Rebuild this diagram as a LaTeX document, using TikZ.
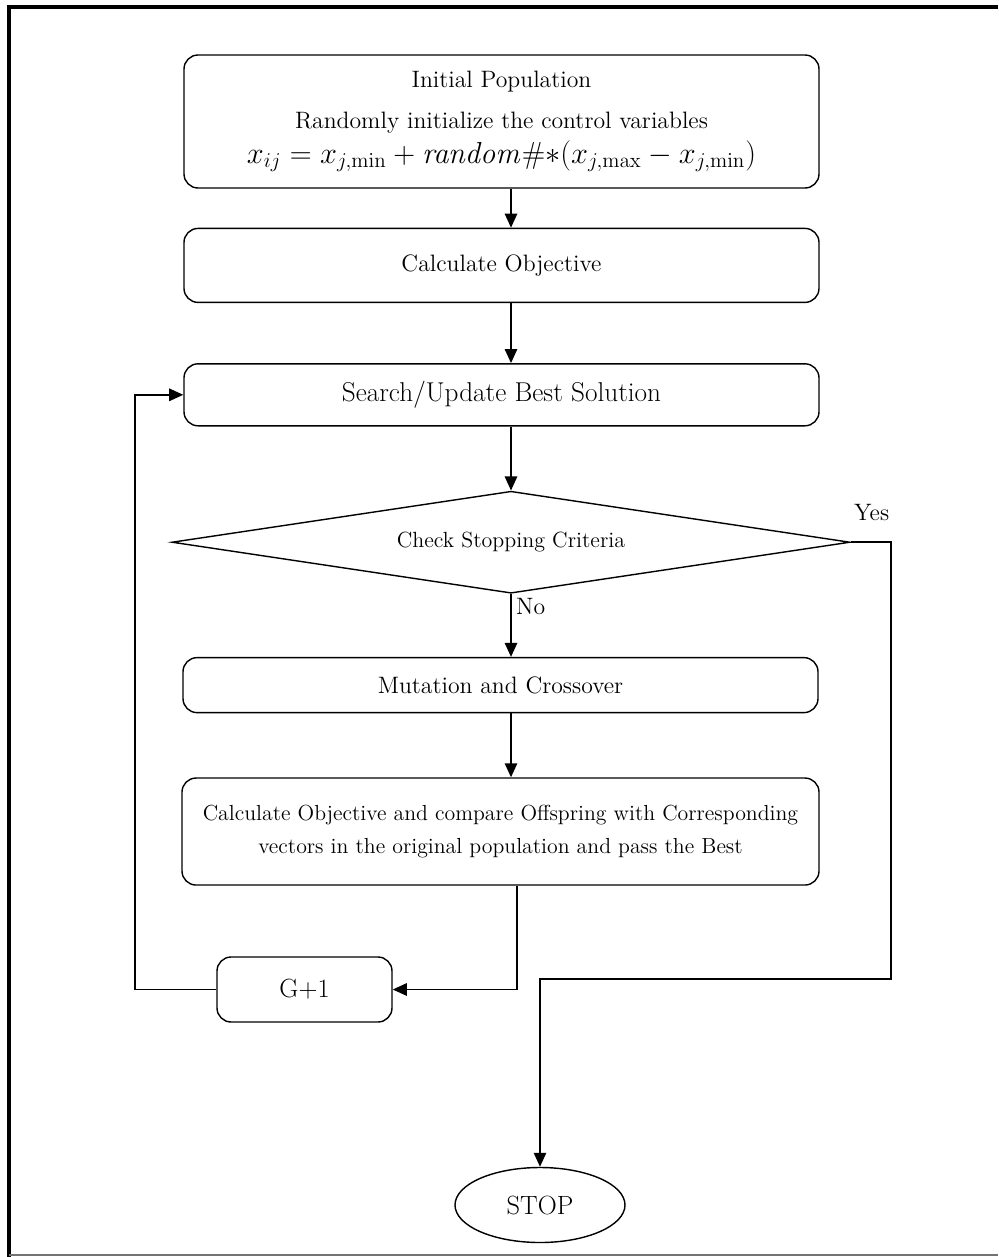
\documentclass[tikz,border=0pt]{standalone}
\usepackage{amsmath,amssymb}
\usepackage{tikz}
\usetikzlibrary{arrows.meta,positioning,shapes.geometric}

\begin{document}
\begin{tikzpicture}[
    node distance=1.25cm,
    box/.style={draw, rounded corners=8pt, line width=0.8pt, minimum width=12.7cm, align=center, font=\fontsize{13.5}{16}\selectfont},
    decision/.style={draw, diamond, aspect=6.65, line width=0.8pt, inner sep=0pt, minimum width=13.56cm, minimum height=2.04cm, font=\fontsize{12.5}{15}\selectfont},
    lbl/.style={inner sep=1pt, font=\fontsize{13.5}{16}\selectfont},
    arr/.style={-{Triangle[length=8pt,width=7pt]}, line width=1.1pt},
    link/.style={line width=1.1pt},
]
\useasboundingbox (0,0) rectangle (19.96,-25.14);

% Page frame
\draw[line width=2.3pt] (0.18,-25.14) -- (0.18,-0.14) -- (19.96,-0.14);
\draw[black!55, line width=0.6pt] (0.18,-25.1) -- (19.96,-25.1);

% Initial population
\node[box, minimum height=2.66cm] (init) at (10.03,-2.43) {Initial Population\\[7pt] Randomly initialize the control variables\\[4pt] {\fontsize{17.4}{20}\selectfont $x_{ij} = x_{j,\min} + \mathit{random}\#{*}(x_{j,\max} - x_{j,\min})$}};

% Objective
\node[box, minimum height=1.48cm, below=0.78cm of init] (calc) {Calculate Objective};

% Best solution
\node[box, minimum height=1.24cm, below=1.2cm of calc, font=\fontsize{15.5}{18}\selectfont] (search) {Search/Update Best Solution};

% Stopping test
\node[decision, below=1.28cm of search, xshift=0.19cm] (dec) {Check Stopping Criteria};

% Variation
\node[box, minimum height=1.1cm, below=1.26cm of dec, xshift=-0.21cm] (mut) {Mutation and Crossover};

% Selection
\node[box, minimum width=12.74cm, minimum height=2.14cm, below=1.28cm of mut, font=\fontsize{12.4}{19}\selectfont] (comp) {Calculate Objective and compare Offspring with Corresponding\\ vectors in the original population and pass the Best};

% Generation counter
\node[box, minimum width=3.5cm, minimum height=1.3cm, font=\fontsize{15}{18}\selectfont] (gen) at (6.09,-19.79) {G+1};

% End
\node[draw, ellipse, line width=0.8pt, minimum width=3.4cm, minimum height=1.5cm, font=\fontsize{15}{18}\selectfont] (stop) at (10.8,-24.1) {STOP};

% Branch labels
\node[lbl, anchor=south] (yes) at ([xshift=0.42cm, yshift=0.38cm]dec.east) {Yes};
\node[lbl, anchor=north west] (no) at ([xshift=0.06cm, yshift=-0.05cm]dec.south) {No};

% Arrows
\draw[arr] (init.south -| dec) -- (calc.north -| dec);
\draw[arr] (calc.south -| dec) -- (search.north -| dec);
\draw[arr] (search.south -| dec) -- (dec.north);
\draw[arr] (dec.south) -- (mut.north -| dec);
\draw[arr] (mut.south -| dec) -- (comp.north -| dec);
\draw[arr] ([xshift=0.12cm]comp.south -| dec) |- (gen.east);
\draw[arr] (gen.west) -- ++(-1.62cm,0) |- (search.west);
\draw[arr] (dec.east) -- ++(0.8cm,0) |- ([yshift=3.76cm]stop.north) -- (stop.north);

\end{tikzpicture}
\end{document}
